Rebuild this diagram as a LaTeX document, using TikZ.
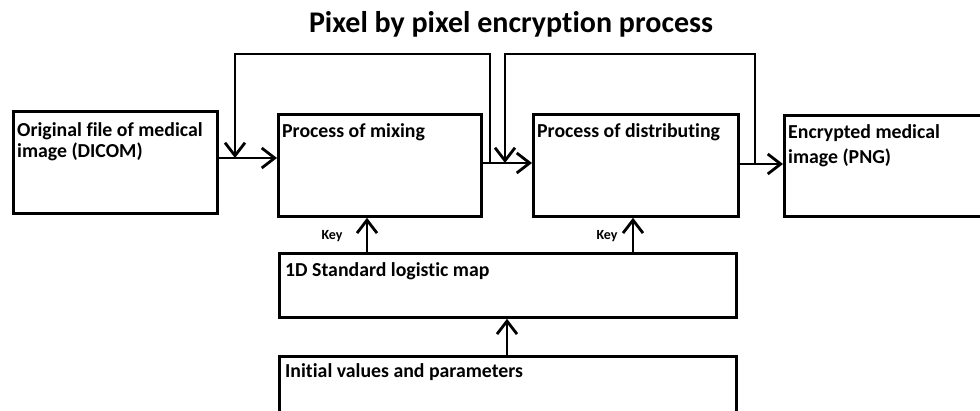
\documentclass[tikz,border=0pt]{standalone}
\usepackage{fontspec}
\setmainfont{Carlito}[Ligatures={NoCommon}]
\usetikzlibrary{arrows.meta}
\begin{document}
\begin{tikzpicture}[x=1pt,y=-1pt,
  box/.style={draw, line width=2.8pt, rectangle, inner sep=0pt, anchor=north west},
  txt/.style={font=\bfseries\fontsize{19.8}{21}\selectfont, align=left, anchor=north west, inner sep=0pt},
  arr/.style={line width=2.8pt, -{Straight Barb[length=13pt,width=20pt]}},
  keylab/.style={font=\bfseries\fontsize{14}{16}\selectfont, inner sep=0pt}]
\useasboundingbox[fill=white] (0,0) rectangle (980,410);
\node[font=\bfseries\fontsize{30}{34}\selectfont, inner sep=0pt] (title) at (511,24) {Pixel by pixel encryption process};
\node[box, minimum width=204pt, minimum height=102pt,
  label={[txt, xshift=5pt, yshift=-12pt]north west:Original file of medical\\image (DICOM)}] (A) at (12,110) {};
\node[box, minimum width=203pt, minimum height=102pt,
  label={[txt, xshift=5pt, yshift=-10pt]north west:Process of mixing}] (B) at (277,113) {};
\node[box, minimum width=205pt, minimum height=102pt,
  label={[txt, xshift=5pt, yshift=-10pt]north west:Process of distributing}] (C) at (532,113) {};
\node[box, minimum width=215pt, minimum height=101pt,
  label={[txt, xshift=5pt, yshift=-10pt, font=\bfseries\fontsize{19.8}{25}\selectfont]north west:Encrypted medical\\image (PNG)}] (D) at (783,114) {};
\node[box, minimum width=457pt, minimum height=64pt,
  label={[txt, xshift=7pt, yshift=-10pt]north west:1D Standard logistic map}] (E) at (278,252) {};
\node[box, minimum width=457pt, minimum height=70pt,
  label={[txt, xshift=7pt, yshift=-8pt]north west:Initial values and parameters}] (F) at (278,355) {};
\coordinate (m1) at (235,158);
\coordinate (m2) at (505,163);
\coordinate (j1) at (490,163);
\coordinate (j2) at (755,164);
\coordinate (top) at (0,54);
\coordinate (k1) at (367,0);
\coordinate (k2) at (633,0);
\coordinate (k3) at (507,0);
\draw[arr] (A.east |- m1) -- (B.west |- m1);
\draw[arr] (B.east |- m2) -- (C.west |- m2);
\draw[arr] (C.east |- j2) -- (D.west |- j2);
\draw[arr] (j1) -- (j1 |- top) -| (m1);
\draw[arr] (j2) -- (j2 |- top) -| (m2);
\draw[arr] (E.north -| k1) -- (B.south -| k1);
\draw[arr] (E.north -| k2) -- (C.south -| k2);
\draw[arr] (F.north -| k3) -- (E.south -| k3);
\node[keylab] (key1) at (332,236) {Key};
\node[keylab] (key2) at (607,236) {Key};
\end{tikzpicture}
\end{document}
